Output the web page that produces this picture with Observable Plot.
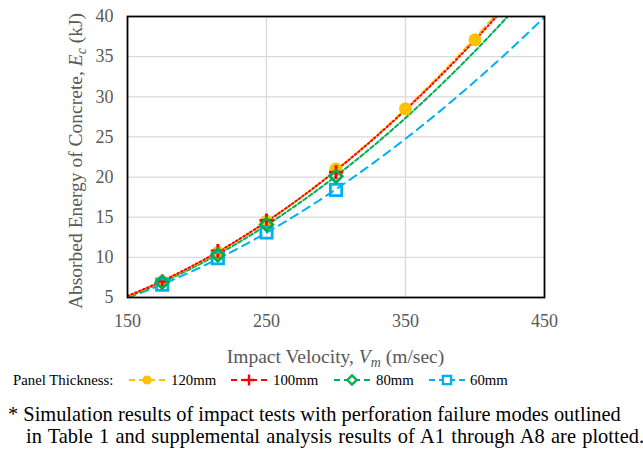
<!DOCTYPE html>
<html><head><meta charset="utf-8">
<script src="https://cdn.jsdelivr.net/npm/d3@7"></script>
<script src="https://cdn.jsdelivr.net/npm/@observablehq/plot@0.6"></script>
<style>
html,body{margin:0;padding:0;background:#fff;}
body{font-family:"Liberation Serif","Times New Roman",serif;color:#000;}
#wrap{position:relative;width:643px;height:450px;overflow:hidden;}
#chart{position:absolute;left:0;top:0;}
#legend{position:absolute;left:0;top:370px;width:643px;height:20px;font-size:14.8px;white-space:nowrap;}
#legend > *{position:absolute;top:0;height:20px;line-height:20px;}
#legend svg{display:block;}
#caption{position:absolute;left:8px;top:403px;font-size:20.4px;line-height:22px;white-space:nowrap;}
#caption .l2{padding-left:18px;word-spacing:1.2px;}
</style></head><body>
<div id="wrap"><div id="chart"></div><div id="legend"></div><div id="caption"></div></div>
<script>
// ---- data ----
const vel120 = [175, 215, 250, 300, 350, 400];
const en120  = [7.0, 10.6, 14.5, 21.0, 28.5, 37.1];
const vel100 = [175, 215, 250, 300];
const en100  = [7.0, 10.8, 14.6, 20.6];
const vel80  = [175, 215, 250, 300];
const en80   = [6.9, 10.3, 14.1, 20.1];
const vel60  = [175, 215, 250, 300];
const en60   = [6.6, 9.9, 13.1, 18.4];
const seriesNames = ["120mm", "100mm", "80mm", "60mm"];
const seriesColors = ["#FFC000", "#FF0000", "#00B050", "#00B0F0"];
const xTicks = [150, 250, 350, 450];
const yTicks = [5, 10, 15, 20, 25, 30, 35, 40];

const FONT = '"Liberation Serif","Times New Roman",serif';

const series = [
  {name: seriesNames[0], color: seriesColors[0], v: vel120, e: en120, symbol: "circle", dash: "8,4", fill: true},
  {name: seriesNames[1], color: seriesColors[1], v: vel100, e: en100, symbol: "plus", dash: "1.6,2.6", fill: false},
  {name: seriesNames[2], color: seriesColors[2], v: vel80,  e: en80,  symbol: "diamond2", dash: "4,2.5", fill: false},
  {name: seriesNames[3], color: seriesColors[3], v: vel60,  e: en60,  symbol: "square2", dash: "8,6", fill: false}
];
const pts = s => s.v.map((v, i) => ({v, e: s.e[i], name: s.name}));

// power trendline (log-log least squares), like a spreadsheet "Power" trendline
function powerFit(xs, ys) {
  const lx = xs.map(Math.log), ly = ys.map(Math.log);
  const mx = d3.mean(lx), my = d3.mean(ly);
  const b = d3.sum(lx, (x, i) => (x - mx) * (ly[i] - my)) / d3.sum(lx, x => (x - mx) ** 2);
  const a = Math.exp(my - b * mx);
  return {a, b};
}
series.forEach(s => {
  const {a, b} = powerFit(s.v, s.e);
  s.trend = d3.range(150, 451, 1).map(v => ({v, e: a * Math.pow(v, b)}));
});

const dotR = {circle: 6.5, plus: 4.6, diamond2: 5.6, square2: 7.2};
const lineOrder = [3, 2, 0, 1];
const dotOrder = [0, 1, 3, 2];

const plot = Plot.plot({
  width: 643, height: 370,
  marginLeft: 127, marginRight: 99, marginTop: 16, marginBottom: 73,
  style: {fontFamily: FONT, fontSize: "18px", background: "#fff"},
  x: {domain: [150, 450]},
  y: {domain: [5, 40]},
  marks: [
    Plot.gridX([250, 350], {stroke: "#d9d9d9", strokeOpacity: 1, strokeWidth: 1.3}),
    Plot.gridY([10, 15, 20, 25, 30, 35], {stroke: "#d9d9d9", strokeOpacity: 1, strokeWidth: 1.3}),
    ...lineOrder.map(i => Plot.line(series[i].trend, {x: "v", y: "e", stroke: series[i].color, strokeWidth: 2, strokeDasharray: series[i].dash, clip: true})),
    ...dotOrder.map(i => {
      const s = series[i];
      return Plot.dot(pts(s), {x: "v", y: "e", symbol: () => s.symbol, r: dotR[s.symbol],
        fill: s.fill ? s.color : "none", stroke: s.fill ? "none" : s.color, strokeWidth: 2.8});
    }),
    Plot.frame({stroke: "#000", strokeWidth: 1.8}),
    Plot.axisX(xTicks, {tickSize: 0, tickPadding: 17, fill: "#595959", label: null, fontSize: 18, fontFamily: FONT}),
    Plot.axisY(yTicks, {tickSize: 0, tickPadding: 14, fill: "#595959", label: null, fontSize: 18, fontFamily: FONT})
  ]
});
document.getElementById("chart").appendChild(plot);

// axis titles with italic symbols and subscripts
const svg = d3.select(plot);
const xt = svg.append("text").attr("x", 335.5).attr("y", 363).attr("text-anchor", "middle")
  .attr("fill", "#595959").style("font-size", "19.5px").style("font-family", FONT);
xt.append("tspan").text("Impact Velocity, ");
xt.append("tspan").attr("font-style", "italic").text("V");
xt.append("tspan").attr("font-style", "italic").attr("font-size", "14px").attr("dy", "4").text("m");
xt.append("tspan").attr("dy", "-4").text(" (m/sec)");

const yt = svg.append("text").attr("transform", "translate(82,161) rotate(-90)").attr("text-anchor", "middle")
  .attr("fill", "#595959").style("font-size", "19.5px").style("font-family", FONT);
yt.append("tspan").text("Absorbed Energy of Concrete, ");
yt.append("tspan").attr("font-style", "italic").text("E");
yt.append("tspan").attr("font-style", "italic").attr("font-size", "14px").attr("dy", "4").text("c");
yt.append("tspan").attr("dy", "-4").text(" (kJ)");

// legend
const legend = d3.select("#legend");
legend.append("span").text("Panel Thickness:").style("left", "13px");
const iconLeft = [128, 230, 333, 428];
const textLeft = [171, 273, 376, 470];
const legR = {circle: 4.6, plus: 3.6, diamond2: 4.2, square2: 5.2};
const symMap = {circle: d3.symbolCircle, plus: d3.symbolPlus, diamond2: d3.symbolDiamond2, square2: d3.symbolSquare2};
series.forEach((s, i) => {
  const w = 38, h = 20;
  const ic = legend.append("svg").attr("width", w).attr("height", h).style("left", iconLeft[i] + "px");
  ic.append("line").attr("x1", 1).attr("x2", w - 1).attr("y1", h / 2).attr("y2", h / 2)
    .attr("stroke", s.color).attr("stroke-width", 2).attr("stroke-dasharray", "6,4");
  const r = legR[s.symbol];
  ic.append("path").attr("transform", `translate(${w / 2},${h / 2})`)
    .attr("d", d3.symbol(symMap[s.symbol], Math.PI * r * r)())
    .attr("fill", s.fill ? s.color : "#fff").attr("stroke", s.fill ? "none" : s.color).attr("stroke-width", 2.4);
  legend.append("span").text(s.name).style("left", textLeft[i] + "px");
});

// caption
const cap = d3.select("#caption");
cap.append("div").text("* Simulation results of impact tests with perforation failure modes outlined");
cap.append("div").attr("class", "l2").text("in Table 1 and supplemental analysis results of A1 through A8 are plotted.");
</script></body></html>
